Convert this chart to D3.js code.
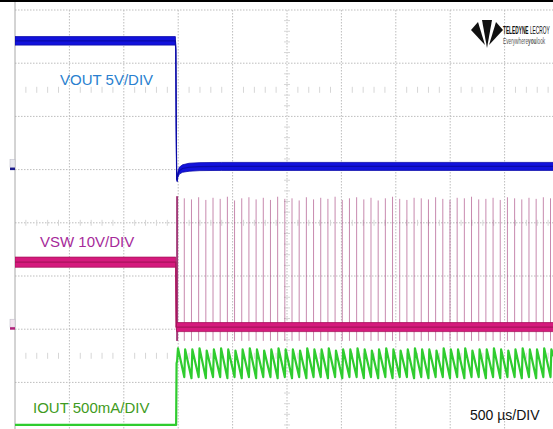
<!DOCTYPE html>
<html>
<head>
<meta charset="utf-8">
<script src="https://cdn.jsdelivr.net/npm/d3@7"></script>
<style>
  body { margin: 0; background: #fff; }
  svg { display: block; font-family: "Liberation Sans", Arial, sans-serif; }
</style>
</head>
<body>
<svg id="scope"></svg>
<script>
// time axis: 500 us per division, 10 divisions
const timeDomain = [0, 5000];
const timeDiv = 500;
const timebaseLabel = '500 µs/DIV';

// channels
const channelLabels = ['VOUT 5V/DIV', 'VSW 10V/DIV', 'IOUT 500mA/DIV'];
const unitsPerDiv = [5, 10, 0.5];
const groundDiv = [1, -2, -3.8];   // zero level of each trace, divisions from centre

// VOUT (V), noise = band height (V p-p)
const voutTime  = [0, 1474, 1478, 1482, 1486, 1490, 1496, 1510, 1540, 1600, 1700, 1900, 5000];
const voutValue = [12.1, 12.1, 11.3, 4.0, -0.9, -1.0, -0.5, -0.1, 0.1, 0.22, 0.28, 0.3, 0.3];
const voutNoise = [0.8, 0.8, 0.35, 0, 0, 0.25, 0.5, 0.65, 0.7, 0.75, 0.75, 0.75, 0.75];

// VSW (V)
const vswTime  = [0, 1478, 1482, 1486, 5000];
const vswValue = [12.6, 12.6, 0.4, 0.4, 0.4];
const vswNoise = [1.9, 1.9, 0, 1.7, 1.7];

// switching pulses (us) and their peak (V)
const spikeTime = [1490, 1556, 1622, 1688, 1754, 1820, 1886, 1952, 2018, 2084,
                   2150, 2216, 2282, 2348, 2414, 2480, 2546, 2612, 2678, 2744,
                   2810, 2876, 2942, 3008, 3074, 3140, 3206, 3272, 3338, 3404,
                   3470, 3536, 3602, 3668, 3734, 3800, 3866, 3932, 3998, 4064,
                   4130, 4196, 4262, 4328, 4394, 4460, 4526, 4592, 4658, 4724,
                   4790, 4856, 4922];
const spikeHigh = [25.0, 24.6, 24.4, 24.8, 24.3, 24.7, 24.5, 24.9, 24.2, 24.6,
                   24.8, 24.4, 24.7, 24.3, 24.9, 24.5, 24.6, 24.2, 24.8, 24.4,
                   24.7, 24.5, 24.9, 24.3, 24.6, 24.8, 24.4, 24.7, 24.2, 24.6,
                   24.9, 24.5, 24.3, 24.7, 24.6, 24.4, 24.8, 24.5, 24.3, 24.7,
                   24.6, 24.9, 24.4, 24.5, 24.7, 24.3, 24.8, 24.6, 24.4, 24.7,
                   24.5, 24.8, 24.6];
const spikeLow = -2.2;

// IOUT (A): before the short, then peak / valley of each ramp
const ioutStartTime  = [0, 1481, 1485];
const ioutStartValue = [0, 0, 0.58];
const iRiseTime = 8;
const iPeak = [0.72, 0.71, 0.71, 0.72, 0.70, 0.71, 0.72, 0.71, 0.70, 0.71,
               0.72, 0.71, 0.70, 0.71, 0.72, 0.71, 0.71, 0.70, 0.72, 0.71,
               0.71, 0.72, 0.70, 0.71, 0.71, 0.72, 0.71, 0.70, 0.71, 0.72,
               0.71, 0.70, 0.71, 0.72, 0.71, 0.71, 0.70, 0.72, 0.71, 0.71,
               0.72, 0.70, 0.71, 0.71, 0.72, 0.71, 0.70, 0.71, 0.72, 0.71,
               0.71, 0.72, 0.71];
const iValley = [0.60, 0.45, 0.44, 0.45, 0.44, 0.45, 0.45, 0.44, 0.45, 0.44,
                 0.45, 0.44, 0.45, 0.45, 0.44, 0.45, 0.44, 0.45, 0.44, 0.45,
                 0.45, 0.44, 0.45, 0.44, 0.45, 0.45, 0.44, 0.45, 0.44, 0.45,
                 0.44, 0.45, 0.45, 0.44, 0.45, 0.44, 0.45, 0.45, 0.44, 0.45,
                 0.44, 0.45, 0.45, 0.44, 0.45, 0.44, 0.45, 0.45, 0.44, 0.45,
                 0.44, 0.45, 0.45];
const ioutEnd = 0.5;

class ScopeChart {
    constructor(_config){
        this.config = {
            parentElement: _config.parentElement,
            containerWidth: _config.containerWidth || 553,
            containerHeight: _config.containerHeight || 429,
            left: 15,
            top: 10,
            divW: 54.4,
            divH: 53.2
        }
        this.initVis();
    }

    initVis(){
        let vis = this;
        let c = vis.config;

        vis.svg = d3.select(c.parentElement)
            .attr('width', c.containerWidth)
            .attr('height', c.containerHeight);

        vis.xScale = d3.scaleLinear()
            .domain(timeDomain)
            .range([c.left, c.left + 10 * c.divW]);

        // screen divisions, +4 top .. -4 bottom
        vis.divScale = d3.scaleLinear()
            .domain([4, -4])
            .range([c.top, c.top + 8 * c.divH]);

        vis.chY = ch => v => vis.divScale(groundDiv[ch] + v / unitsPerDiv[ch]);

        vis.svg.append('clipPath').attr('id', 'plotClip')
            .append('rect')
            .attr('x', c.left).attr('y', 2)
            .attr('width', c.containerWidth - c.left)
            .attr('height', c.containerHeight - 2);

        vis.gridG = vis.svg.append('g');
        vis.traceG = vis.svg.append('g').attr('clip-path', 'url(#plotClip)');
        vis.labelG = vis.svg.append('g');

        vis.renderGrid();
        vis.renderVis();
    }

    renderGrid(){
        let vis = this;
        let c = vis.config;
        const W = c.containerWidth, H = c.containerHeight;

        // major dotted lines
        const xLines = d3.range(timeDomain[0] + timeDiv, timeDomain[1], timeDiv);
        vis.gridG.selectAll('.vgrid')
            .data(xLines)
            .enter().append('line')
            .attr('x1', d => vis.xScale(d)).attr('x2', d => vis.xScale(d))
            .attr('y1', c.top).attr('y2', H)
            .attr('stroke', '#bdbdbd')
            .attr('stroke-dasharray', '1.5,1.5');

        const yLines = d3.range(4, -4, -1);
        vis.gridG.selectAll('.hgrid')
            .data(yLines)
            .enter().append('line')
            .attr('x1', c.left).attr('x2', W)
            .attr('y1', d => vis.divScale(d)).attr('y2', d => vis.divScale(d))
            .attr('stroke', '#bdbdbd')
            .attr('stroke-dasharray', '1.5,1.5');

        // minor ticks on centre line and at +-2.5 div
        const minorX = d3.range(timeDomain[0], timeDomain[1], timeDiv / 5).filter(t => t % timeDiv !== 0);
        [0, 2.5, -2.5].forEach(row => {
            const y = vis.divScale(row);
            vis.gridG.selectAll(null)
                .data(minorX)
                .enter().append('line')
                .attr('x1', d => vis.xScale(d)).attr('x2', d => vis.xScale(d))
                .attr('y1', y - 3).attr('y2', y + 3)
                .attr('stroke', '#d6d6d6');
        });
        const minorY = d3.range(-4, 4, 0.2).filter(d => Math.abs(d - Math.round(d)) > 0.01);
        const xc = vis.xScale(timeDomain[1] / 2);
        vis.gridG.selectAll(null)
            .data(minorY)
            .enter().append('line')
            .attr('x1', xc - 3).attr('x2', xc + 3)
            .attr('y1', d => vis.divScale(d)).attr('y2', d => vis.divScale(d))
            .attr('stroke', '#d6d6d6');

        // left border and top bar
        vis.gridG.append('line')
            .attr('x1', c.left).attr('x2', c.left)
            .attr('y1', 2).attr('y2', H)
            .attr('stroke', '#a8a8a8');
        vis.gridG.append('rect')
            .attr('x', 0).attr('y', 0).attr('width', W).attr('height', 2)
            .attr('fill', '#000');
    }

    renderVis(){
        let vis = this;

        const band = (times, values, noise) => times.map((t, i) => ({t: t, v: values[i], n: noise[i]}));

        const drawBand = (ch, data, fill, edge) => {
            const y = vis.chY(ch);
            const area = d3.area()
                .x(d => vis.xScale(d.t))
                .y0(d => y(d.v - d.n / 2))
                .y1(d => y(d.v + d.n / 2));
            const line = d3.line()
                .x(d => vis.xScale(d.t))
                .y(d => y(d.v));
            vis.traceG.append('path')
                .attr('d', area(data))
                .attr('fill', fill)
                .attr('stroke', edge)
                .attr('stroke-width', 0.8);
            vis.traceG.append('path')
                .attr('d', line(data))
                .attr('fill', 'none')
                .attr('stroke', edge)
                .attr('stroke-width', 1.2);
        };

        // VSW switching pulses
        const ySw = vis.chY(1);
        vis.traceG.selectAll('.spike')
            .data(spikeTime)
            .enter().append('line')
            .attr('x1', d => vis.xScale(d)).attr('x2', d => vis.xScale(d))
            .attr('y1', (d, i) => ySw(spikeHigh[i]))
            .attr('y2', ySw(spikeLow))
            .attr('stroke', '#a23a78')
            .attr('stroke-opacity', (d, i) => i === 0 ? 1 : 0.6)
            .attr('stroke-width', (d, i) => i === 0 ? 2 : 1);

        drawBand(1, band(vswTime, vswValue, vswNoise), '#d51a7d', '#a8135c');
        drawBand(0, band(voutTime, voutValue, voutNoise), '#1212dc', '#0a0aa8');

        // IOUT sawtooth
        const yI = vis.chY(2);
        let ioutPts = ioutStartTime.map((t, i) => [t, ioutStartValue[i]]);
        spikeTime.forEach((t, i) => {
            ioutPts.push([t, iValley[i]]);
            ioutPts.push([t + iRiseTime, iPeak[i]]);
        });
        ioutPts.push([timeDomain[1], ioutEnd]);
        vis.traceG.append('path')
            .attr('d', d3.line().x(d => vis.xScale(d[0])).y(d => yI(d[1]))(ioutPts))
            .attr('fill', 'none')
            .attr('stroke', '#2fcc2f')
            .attr('stroke-width', 2.2)
            .attr('stroke-linejoin', 'round');

        // ground markers on the left edge
        const markers = [
            {y: vis.chY(0)(0), fill: '#1a1a8c', box: '#e6e6ee'},
            {y: vis.chY(1)(0), fill: '#b0207a', box: '#f2e2ee'}
        ];
        markers.forEach(m => {
            vis.labelG.append('rect')
                .attr('x', 10).attr('y', m.y - 10).attr('width', 5).attr('height', 8)
                .attr('fill', m.box).attr('stroke', '#b8b8c4').attr('stroke-width', 0.5);
            vis.labelG.append('rect')
                .attr('x', 10).attr('y', m.y - 2).attr('width', 5).attr('height', 2.5)
                .attr('fill', m.fill);
        });

        // channel labels
        const labelPos = [[60, 85, '#2a7fcf'], [40, 247, '#a62a9a'], [33, 413, '#3f9b22']];
        vis.labelG.selectAll('.chlabel')
            .data(channelLabels)
            .enter().append('text')
            .attr('x', (d, i) => labelPos[i][0])
            .attr('y', (d, i) => labelPos[i][1])
            .attr('fill', (d, i) => labelPos[i][2])
            .attr('font-size', 15)
            .text(d => d);

        vis.labelG.append('text')
            .attr('x', 470).attr('y', 420)
            .attr('font-size', 14)
            .attr('fill', '#111')
            .text(timebaseLabel);

        vis.renderLogo();
    }

    renderLogo(){
        let vis = this;
        const g = vis.labelG.append('g');
        // stylised logo mark
        const shapes = [
            [[471, 30], [478, 22], [485, 45]],
            [[482, 20], [492, 20], [487, 48]],
            [[496, 22], [503, 30], [489, 45]]
        ];
        g.selectAll('polygon')
            .data(shapes)
            .enter().append('polygon')
            .attr('points', d => d.map(p => p.join(',')).join(' '))
            .attr('fill', '#111');

        const t1 = g.append('text')
            .attr('transform', 'translate(503,34) scale(0.48,1)')
            .attr('font-size', 10)
            .attr('fill', '#111');
        t1.append('tspan').attr('font-weight', 'bold').text('TELEDYNE');
        t1.append('tspan').text(' LECROY');

        const t2 = g.append('text')
            .attr('transform', 'translate(503,44) scale(0.5,1)')
            .attr('font-size', 9.5)
            .attr('fill', '#555');
        t2.append('tspan').text('Everywhere');
        t2.append('tspan').attr('font-weight', 'bold').text('you');
        t2.append('tspan').text('look');
    }
}

new ScopeChart({parentElement: '#scope'});
</script>
</body>
</html>
